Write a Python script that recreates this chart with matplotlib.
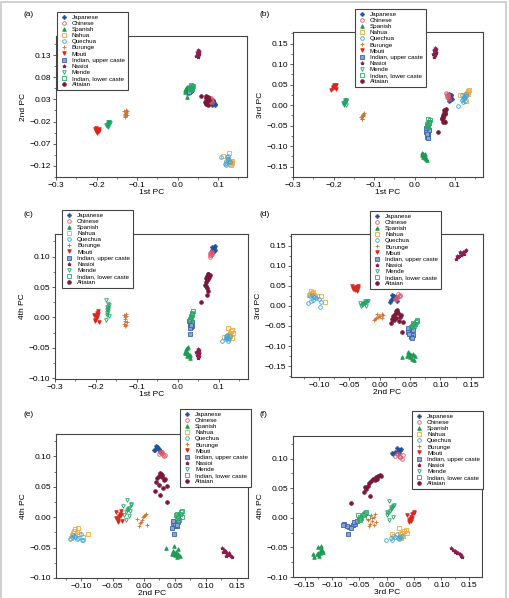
import numpy as np
import matplotlib
matplotlib.use("Agg")
import matplotlib.pyplot as plt
from matplotlib.ticker import AutoMinorLocator, FuncFormatter
from matplotlib.patches import Rectangle

plt.rcParams['font.family'] = ['Liberation Sans', 'DejaVu Sans']

# columns: 1st PC, 2nd PC, 3rd PC, 4th PC
japanese = [
    (0.086, 0.024, 0.020, 0.112), (0.089, 0.022, 0.024, 0.115), (0.091, 0.020, 0.018, 0.118),
    (0.088, 0.026, 0.022, 0.109), (0.084, 0.021, 0.027, 0.116), (0.092, 0.018, 0.015, 0.111),
    (0.087, 0.028, 0.012, 0.108), (0.090, 0.023, 0.025, 0.114), (0.085, 0.017, 0.010, 0.110),
]
chinese = [
    (0.082, 0.028, 0.022, 0.105), (0.080, 0.031, 0.025, 0.103), (0.083, 0.026, 0.018, 0.107),
    (0.079, 0.033, 0.028, 0.100), (0.081, 0.029, 0.020, 0.108), (0.084, 0.025, 0.016, 0.104),
    (0.078, 0.030, 0.030, 0.106), (0.082, 0.034, 0.024, 0.102),
]
spanish = [
    (0.020, 0.048, -0.118, -0.055), (0.023, 0.052, -0.122, -0.058), (0.025, 0.045, -0.125, -0.060),
    (0.021, 0.055, -0.120, -0.052), (0.027, 0.050, -0.128, -0.062), (0.018, 0.047, -0.116, -0.057),
    (0.024, 0.058, -0.124, -0.064), (0.029, 0.053, -0.132, -0.066), (0.022, 0.036, -0.126, -0.050),
    (0.026, 0.049, -0.119, -0.048), (0.031, 0.056, -0.134, -0.061), (0.019, 0.051, -0.121, -0.059),
]
nahua = [
    (0.128, -0.108, 0.028, -0.025), (0.131, -0.112, 0.032, -0.022), (0.125, -0.104, 0.025, -0.028),
    (0.133, -0.110, 0.035, -0.020), (0.129, -0.115, 0.030, -0.030), (0.124, -0.106, 0.022, -0.018),
    (0.135, -0.113, 0.038, -0.026), (0.113, -0.097, 0.024, -0.032), (0.127, -0.090, 0.009, -0.027),
    (0.132, -0.117, 0.027, -0.034),
]
quechua = [
    (0.120, -0.110, 0.015, -0.032), (0.123, -0.105, 0.020, -0.034), (0.118, -0.113, 0.012, -0.030),
    (0.126, -0.108, 0.022, -0.036), (0.121, -0.100, 0.018, -0.028), (0.117, -0.115, 0.025, -0.033),
    (0.124, -0.097, 0.010, -0.038), (0.108, -0.099, -0.002, -0.038), (0.128, -0.112, 0.028, -0.031),
    (0.119, -0.118, 0.008, -0.035),
]
burunge = [
    (-0.129, -0.003, -0.027, -0.005), (-0.127, 0.001, -0.024, 0.002), (-0.131, -0.006, -0.030, -0.010),
    (-0.126, 0.004, -0.021, 0.006), (-0.130, -0.008, -0.033, -0.014), (-0.128, -0.001, -0.026, 0.000),
    (-0.125, -0.005, -0.019, -0.008), (-0.132, 0.003, -0.029, 0.004), (-0.129, -0.010, -0.035, -0.003),
    (-0.127, 0.006, -0.023, -0.012),
]
mbuti = [
    (-0.199, -0.040, 0.044, 0.002), (-0.196, -0.038, 0.047, 0.006), (-0.202, -0.042, 0.041, -0.004),
    (-0.194, -0.036, 0.049, 0.010), (-0.200, -0.044, 0.043, -0.002), (-0.197, -0.039, 0.046, 0.000),
    (-0.193, -0.041, 0.040, -0.008), (-0.205, -0.037, 0.038, 0.004), (-0.198, -0.045, 0.050, 0.008),
    (-0.201, -0.035, 0.045, -0.006),
]
indian_upper = [
    (0.031, 0.050, -0.062, -0.012), (0.033, 0.052, -0.068, -0.015), (0.030, 0.048, -0.058, -0.010),
    (0.034, 0.054, -0.072, -0.014), (0.029, 0.046, -0.065, -0.017), (0.032, 0.051, -0.078, -0.011),
    (0.035, 0.055, -0.060, -0.008), (0.030, 0.049, -0.070, -0.027), (0.033, 0.053, -0.080, -0.013),
    (0.028, 0.047, -0.055, -0.006),
]
nasioi = [
    (0.049, 0.126, 0.117, -0.051), (0.051, 0.129, 0.121, -0.054), (0.047, 0.131, 0.124, -0.056),
    (0.052, 0.133, 0.127, -0.058), (0.050, 0.135, 0.130, -0.060), (0.048, 0.137, 0.133, -0.062),
    (0.053, 0.140, 0.136, -0.064), (0.050, 0.142, 0.138, -0.066), (0.046, 0.128, 0.125, -0.057),
    (0.052, 0.138, 0.129, -0.059), (0.049, 0.132, 0.135, -0.063),
]
mende = [
    (-0.172, -0.026, 0.006, 0.012), (-0.170, -0.023, 0.009, 0.016), (-0.174, -0.029, 0.003, 0.008),
    (-0.169, -0.021, 0.011, 0.020), (-0.173, -0.031, 0.001, 0.004), (-0.171, -0.025, 0.007, 0.014),
    (-0.175, -0.027, 0.005, 0.028), (-0.168, -0.024, 0.012, 0.002), (-0.172, -0.033, 0.008, 0.018),
    (-0.170, -0.022, 0.000, 0.010), (-0.176, -0.028, 0.004, -0.004), (-0.171, -0.020, 0.013, 0.022),
]
indian_lower = [
    (0.033, 0.055, -0.048, 0.002), (0.035, 0.058, -0.044, 0.005), (0.031, 0.053, -0.051, -0.002),
    (0.036, 0.060, -0.040, 0.008), (0.032, 0.056, -0.046, 0.000), (0.034, 0.052, -0.053, 0.004),
    (0.037, 0.061, -0.037, 0.010), (0.030, 0.057, -0.049, -0.004), (0.035, 0.054, -0.042, 0.006),
    (0.033, 0.062, -0.035, 0.001),
]
altaian = [
    (0.072, 0.025, -0.020, 0.068), (0.074, 0.028, -0.015, 0.071), (0.070, 0.022, -0.025, 0.065),
    (0.076, 0.030, -0.018, 0.066), (0.071, 0.033, -0.028, 0.062), (0.073, 0.027, -0.012, 0.072),
    (0.069, 0.020, -0.032, 0.058), (0.075, 0.035, -0.022, 0.063), (0.068, 0.024, -0.035, 0.053),
    (0.072, 0.031, -0.038, 0.048), (0.070, 0.038, -0.040, 0.052), (0.074, 0.018, -0.042, 0.044),
    (0.071, 0.026, -0.030, 0.037), (0.058, 0.037, -0.065, 0.025), (0.078, 0.029, -0.010, 0.070),
]

labels = ['Japanese', 'Chinese', 'Spanish', 'Nahua', 'Quechua', 'Burunge', 'Mbuti',
          'Indian, upper caste', 'Nasioi', 'Mende', 'Indian, lower caste', 'Altaian']
groups = [japanese, chinese, spanish, nahua, quechua, burunge, mbuti,
          indian_upper, nasioi, mende, indian_lower, altaian]
colors = ['#22509a', '#e2586c', '#1c9c50', '#f2a83a', '#3aa4dc', '#d2702e', '#d8281e',
          '#3b63ae', '#8c1d4f', '#1fa566', '#2aa866', '#7a1836']
markers = ['P', 'o', '^', 's', 'o', '+', 'v', 's', '*', 'v', 's', 'o']
filled = [True, False, True, False, False, True, True, True, True, False, False, True]

axis_names = ['1st PC', '2nd PC', '3rd PC', '4th PC']

W, H = 509, 598
fig = plt.figure(figsize=(W / 100, H / 100), dpi=100)


def px_axes(left, right, top, bottom):
    return fig.add_axes([left / W, 1 - bottom / H, (right - left) / W, (bottom - top) / H])


# panel: letter, x pc, y pc, axes px box, xlim, ylim, xticks, yticks, tick format, legend anchor px, label px
panels = [
    ('(a)', 0, 1, (56, 247, 36, 177), (-0.3, 0.171), (-0.145, 0.173),
     [-0.3, -0.2, -0.1, 0.0, 0.1], [-0.12, -0.07, -0.02, 0.03, 0.08, 0.13], ('%.1f', '%.2f'),
     (57, 12), (24, 15)),
    ('(b)', 0, 2, (293, 483, 32, 177), (-0.3, 0.169), (-0.175, 0.178),
     [-0.3, -0.2, -0.1, 0.0, 0.1], [-0.15, -0.10, -0.05, 0.0, 0.05, 0.10, 0.15], ('%.1f', '%.2f'),
     (355, 9), (259, 15)),
    ('(c)', 0, 3, (55, 248, 234, 379), (-0.3, 0.172), (-0.101, 0.137),
     [-0.3, -0.2, -0.1, 0.0, 0.1], [-0.10, -0.05, 0.0, 0.05, 0.10], ('%.1f', '%.2f'),
     (62, 210), (24, 215)),
    ('(d)', 1, 2, (291, 483, 234, 377), (-0.146, 0.17), (-0.177, 0.179),
     [-0.10, -0.05, 0.0, 0.05, 0.10, 0.15], [-0.15, -0.10, -0.05, 0.0, 0.05, 0.10, 0.15], ('%.2f', '%.2f'),
     (370, 211), (259, 215)),
    ('(e)', 1, 3, (56, 248, 434, 578), (-0.141, 0.168), (-0.10, 0.137),
     [-0.10, -0.05, 0.0, 0.05, 0.10, 0.15], [-0.10, -0.05, 0.0, 0.05, 0.10], ('%.2f', '%.2f'),
     (180, 409), (24, 415)),
    ('(f)', 2, 3, (293, 482, 436, 577), (-0.171, 0.174), (-0.10, 0.138),
     [-0.15, -0.10, -0.05, 0.0, 0.05, 0.10, 0.15], [-0.10, -0.05, 0.0, 0.05, 0.10], ('%.2f', '%.2f'),
     (412, 411), (259, 414)),
]

for letter, xi, yi, box, xlim, ylim, xticks, yticks, tfmt, leg_px, lab_px in panels:
    ax = px_axes(*box)
    handles = []
    for data, lab, c, m, f in zip(groups, labels, colors, markers, filled):
        arr = np.array(data)
        mfc = c if f else 'none'
        if lab == 'Indian, upper caste':
            mfc = '#8aa2d4'
        h, = ax.plot(arr[:, xi], arr[:, yi], ls='none', marker=m, ms=2.6,
                     mfc=mfc, mec=c, mew=0.6, label=lab)
        handles.append(h)
    ax.set_xlim(*xlim)
    ax.set_ylim(*ylim)
    ax.set_xticks(xticks)
    ax.set_yticks(yticks)
    ax.xaxis.set_major_formatter(FuncFormatter(lambda v, p, s=tfmt[0]: (s % v).replace('-', '\u2212')))
    ax.yaxis.set_major_formatter(FuncFormatter(lambda v, p, s=tfmt[1]: (s % v).replace('-', '\u2212')))
    ax.xaxis.set_minor_locator(AutoMinorLocator(2))
    ax.yaxis.set_minor_locator(AutoMinorLocator(2))
    ax.tick_params(which='major', direction='out', length=2.5, width=0.6, labelsize=6, pad=1,
                   color='#444444')
    ax.tick_params(which='minor', direction='out', length=1.5, width=0.5, color='#444444')
    for sp in ax.spines.values():
        sp.set_color('#444444')
        sp.set_linewidth(0.8)
    ax.set_xlabel(axis_names[xi], fontsize=6, labelpad=0)
    ax.set_ylabel(axis_names[yi], fontsize=6, labelpad=2)
    fig.text(lab_px[0] / W, 1 - lab_px[1] / H, letter, fontsize=6, va='center', ha='left')
    leg = fig.legend(handles, labels, loc='upper left',
                     bbox_to_anchor=(leg_px[0] / W, 1 - leg_px[1] / H),
                     bbox_transform=fig.transFigure, fontsize=4.5, frameon=True,
                     fancybox=False, borderpad=0.4, labelspacing=0.12, handlelength=1.5,
                     handletextpad=0.5, borderaxespad=0, markerscale=1.0)
    leg.get_frame().set_edgecolor('#444444')
    leg.get_frame().set_linewidth(0.8)
    leg.get_frame().set_alpha(1)

fig.patches.append(Rectangle((1 / W, -0.02), (W - 4) / W, 1 - 2 / H + 0.02, transform=fig.transFigure,
                             fill=False, edgecolor='#c8c8c8', linewidth=1.2))

fig.savefig('out.png', dpi=100)
